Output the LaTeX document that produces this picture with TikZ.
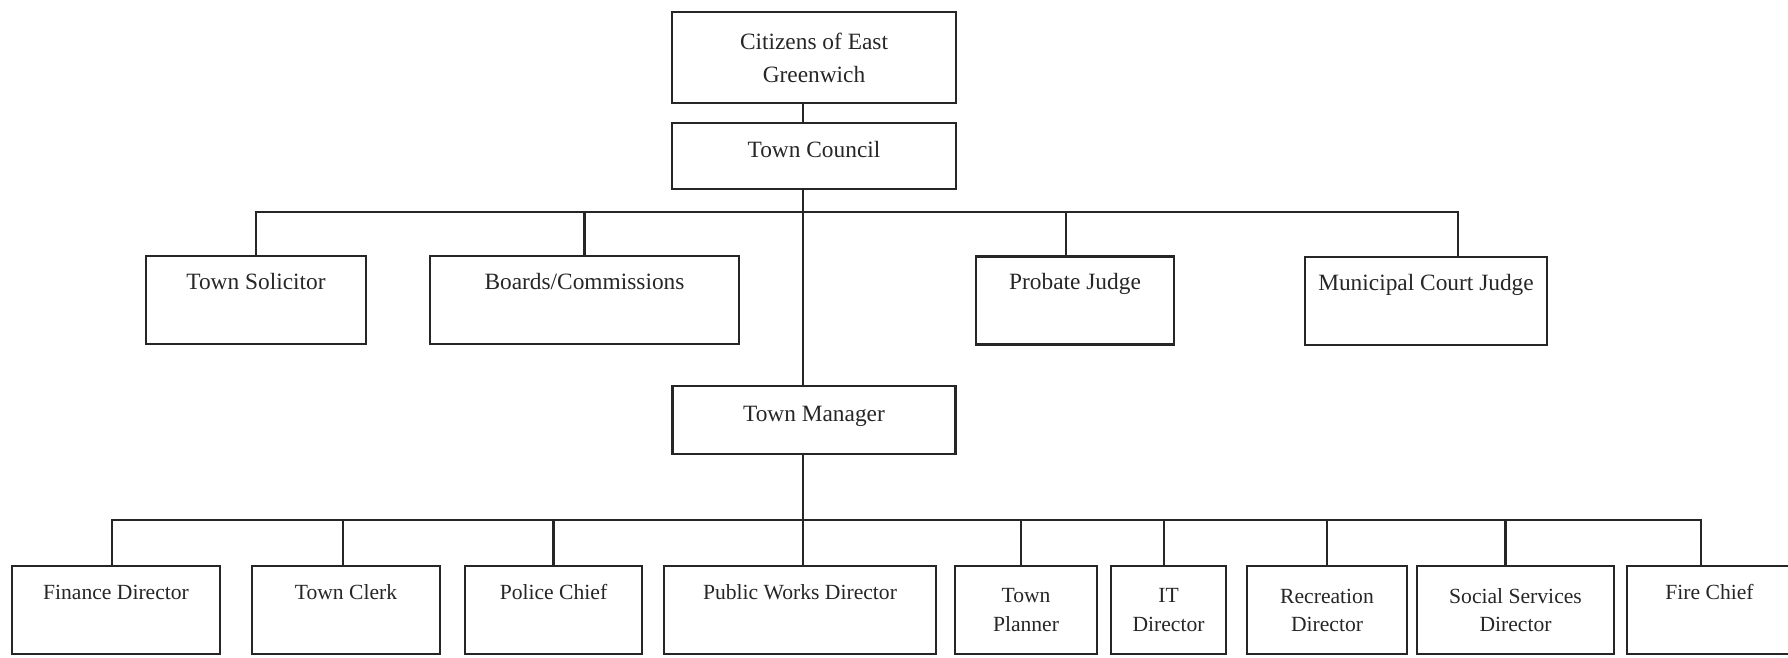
\documentclass[tikz,border=0pt]{standalone}
\usepackage{fontspec}
\setmainfont{Liberation Serif}
\definecolor{ink}{gray}{0.15}
\begin{document}
\begin{tikzpicture}[x=0.02cm, y=-0.02cm, node distance=1.97cm,
	box/.style={rectangle,draw=ink,line width=1.4pt,text=ink,inner sep=0pt,align=center},
	upper/.style={font=\fontsize{13.3}{18.8}\selectfont},
	lower/.style={font=\fontsize{12.3}{16}\selectfont,minimum height=1.76cm},
	high/.style={text height=9pt,text depth=21.5pt},
	mid/.style={text height=9pt,text depth=7.5pt},
	link/.style={line width=1.4pt,color=ink}]
	\useasboundingbox (0,0) rectangle (1788,657);
	% Place nodes
	\node [box,upper,minimum width=5.68cm,minimum height=1.82cm] (cit) at (814,57.5) {Citizens of East\\Greenwich};
	\node [box,upper,mid,below of=cit,minimum width=5.68cm,minimum height=1.32cm] (council) {Town Council};
	\node [box,upper,mid,below of=council,node distance=5.28cm,minimum width=5.66cm,minimum height=1.36cm] (mgr) {Town Manager};

	\node [box,upper,high,minimum width=4.4cm,minimum height=1.76cm] (sol) at (256,300) {Town Solicitor};
	\node [box,upper,high,minimum width=6.18cm,minimum height=1.76cm] (boards) at (584.5,300) {Boards/Commissions};
	\node [box,upper,high,minimum width=3.96cm,minimum height=1.76cm] (probate) at (1075,300.5) {Probate Judge};
	\node [box,upper,high,minimum width=4.84cm,minimum height=1.76cm] (muni) at (1426,301) {Municipal Court Judge};

	\node [box,lower,high,minimum width=4.16cm] (fin) at (116,610) {Finance Director};
	\node [box,lower,high,minimum width=3.76cm] (clerk) at (346,610) {Town Clerk};
	\node [box,lower,high,minimum width=3.54cm] (police) at (553.5,610) {Police Chief};
	\node [box,lower,high,minimum width=5.44cm] (pw) at (800,610) {Public Works Director};
	\node [box,lower,minimum width=2.84cm] (planner) at (1026,610) {Town\\Planner};
	\node [box,lower,minimum width=2.3cm] (it) at (1168.5,610) {IT\\Director};
	\node [box,lower,minimum width=3.2cm] (rec) at (1327,610) {Recreation\\Director};
	\node [box,lower,minimum width=3.94cm] (social) at (1515.5,610) {Social Services\\Director};
	\node [box,lower,high,minimum width=3.3cm] (fire) at (1709.5,610) {Fire Chief};

	% Lines
	\coordinate (bus1) at (803,212);
	\coordinate (bus2) at (803,520);
	\draw [link] (cit.south -| bus1) -- (council.north -| bus1);
	\draw [link] (council.south -| bus1) -- (mgr.north -| bus1);
	\draw [link] (sol.north) |- (bus1) -| ([xshift=0.64cm]muni.north);
	\draw [link] (boards.north) -- (boards.north |- bus1);
	\draw [link] ([xshift=-0.18cm]probate.north) -- ([xshift=-0.18cm]probate.north |- bus1);

	\draw [link] (mgr.south -| bus2) -- (pw.north -| bus2);
	\draw [link] ([xshift=-0.08cm]fin.north) |- (bus2) -| ([xshift=-0.17cm]fire.north);
	\draw [link] ([xshift=-0.06cm]clerk.north) -- ([xshift=-0.06cm]clerk.north |- bus2);
	\draw [link] (police.north) -- (police.north |- bus2);
	\draw [link] ([xshift=-0.1cm]planner.north) -- ([xshift=-0.1cm]planner.north |- bus2);
	\draw [link] ([xshift=-0.09cm]it.north) -- ([xshift=-0.09cm]it.north |- bus2);
	\draw [link] (rec.north) -- (rec.north |- bus2);
	\draw [link] ([xshift=-0.2cm]social.north) -- ([xshift=-0.2cm]social.north |- bus2);
\end{tikzpicture}
\end{document}
